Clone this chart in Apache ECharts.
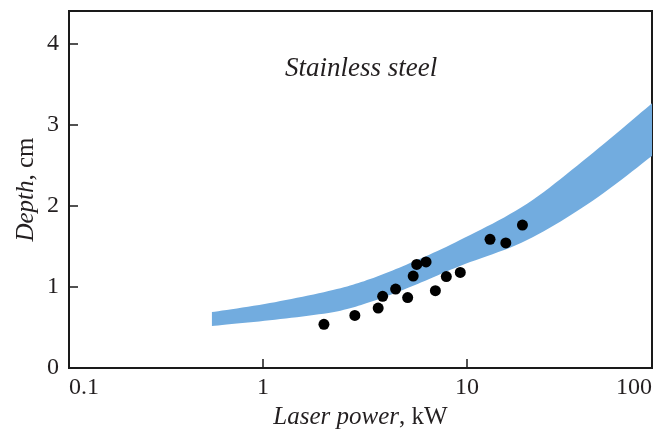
<!DOCTYPE html>
<html><head><meta charset="utf-8">
<script src="https://cdn.jsdelivr.net/npm/echarts@6/dist/echarts.min.js"></script>
<style>html,body{margin:0;padding:0;background:#fff}#c{width:669px;height:429px}</style>
</head><body><div id="c"></div>
<script>
const pointPower = [1.99, 2.82, 3.67, 3.86, 4.47, 5.12, 5.45, 5.67, 6.30, 7.0, 7.92, 9.27, 12.97, 15.5, 18.7];
const pointDepth = [0.54, 0.65, 0.74, 0.885, 0.975, 0.87, 1.135, 1.28, 1.31, 0.955, 1.13, 1.18, 1.59, 1.545, 1.765];
const bandPower = [0.562, 1.08, 2.2, 3.35, 5.26, 9.24, 19.7, 41.5, 80.7];
const bandUpper = [0.691, 0.802, 0.963, 1.099, 1.296, 1.58, 2.03, 2.66, 3.27];
const bandLower = [0.519, 0.590, 0.690, 0.815, 1.0, 1.26, 1.580, 2.07, 2.62];
const xTickLabels = ['0.1', '1', '10', '100'];
const yTickLabels = ['0', '1', '2', '3', '4'];
const chartTitle = 'Stainless steel';

const serif = "'Liberation Serif', serif";
const ink = '#231f20';

function catmull(pts, steps) {
  const out = [];
  for (let i = 0; i < pts.length - 1; i++) {
    const p0 = pts[Math.max(i - 1, 0)], p1 = pts[i], p2 = pts[i + 1], p3 = pts[Math.min(i + 2, pts.length - 1)];
    for (let s = 0; s < steps; s++) {
      const t = s / steps, t2 = t * t, t3 = t2 * t;
      const f = (a, b, c, d) => 0.5 * ((2 * b) + (-a + c) * t + (2 * a - 5 * b + 4 * c - d) * t2 + (-a + 3 * b - 3 * c + d) * t3);
      out.push([f(p0[0], p1[0], p2[0], p3[0]), f(p0[1], p1[1], p2[1], p3[1])]);
    }
  }
  out.push(pts[pts.length - 1]);
  return out;
}

const chart = echarts.init(document.getElementById('c'), null, {renderer: 'canvas'});
chart.setOption({
  animation: false,
  backgroundColor: '#fff',
  title: {
    text: chartTitle, left: 280, top: 50,
    textStyle: {fontFamily: serif, fontStyle: 'italic', fontWeight: 'normal', fontSize: 27, color: ink}
  },
  grid: {left: 69, right: 17, top: 11, bottom: 61, show: true, borderColor: '#1a1a1a', borderWidth: 2,
         containLabel: false, outerBoundsMode: 'none'},
  xAxis: {
    type: 'log', logBase: 10, min: 0.112, max: 80.7,
    name: '{i|Laser power}{r|, kW}', nameLocation: 'middle', nameGap: 30,
    nameTextStyle: {rich: {
      i: {fontFamily: serif, fontStyle: 'italic', fontSize: 25, color: ink},
      r: {fontFamily: serif, fontSize: 25, color: ink}
    }},
    axisLine: {show: true, lineStyle: {color: '#1a1a1a', width: 2}},
    axisTick: {show: true, inside: true, length: 9, lineStyle: {color: '#1a1a1a', width: 1.5}},
    minorTick: {show: false},
    splitLine: {show: false},
    axisLabel: {
      fontFamily: serif, fontSize: 24, color: ink, margin: 8,
      showMinLabel: true, showMaxLabel: true,
      alignMinLabel: 'left', alignMaxLabel: 'right',
      formatter: function (v) {
        if (v < 0.5) return xTickLabels[0];
        if (v > 50) return xTickLabels[3];
        if (Math.abs(v - 1) < 1e-6) return xTickLabels[1];
        if (Math.abs(v - 10) < 1e-6) return xTickLabels[2];
        return '';
      }
    }
  },
  yAxis: {
    type: 'value', min: 0, max: 4.41, interval: 1,
    name: '{i|Depth}{r|, cm}', nameLocation: 'middle', nameGap: 30, nameRotate: 90,
    nameMoveOverlap: false,
    nameTextStyle: {rich: {
      i: {fontFamily: serif, fontStyle: 'italic', fontSize: 25, color: ink},
      r: {fontFamily: serif, fontSize: 25, color: ink}
    }},
    axisLine: {show: true, lineStyle: {color: '#1a1a1a', width: 2}},
    axisTick: {show: true, inside: true, length: 9, lineStyle: {color: '#1a1a1a', width: 1.5}},
    splitLine: {show: false},
    axisLabel: {
      fontFamily: serif, fontSize: 24, color: ink, margin: 10,
      formatter: function (v) {
        const i = Math.round(v);
        return Math.abs(v - i) < 1e-6 && yTickLabels[i] !== undefined ? yTickLabels[i] : '';
      }
    }
  },
  series: [
    {
      type: 'custom', silent: true, clip: true,
      data: bandPower.map((x, i) => [x, bandLower[i], bandUpper[i]]),
      encode: {x: 0, y: [1, 2]},
      renderItem: function (params, api) {
        if (params.dataIndex !== 0) return null;
        const up = bandPower.map((x, i) => api.coord([x, bandUpper[i]]));
        const lo = bandPower.map((x, i) => api.coord([x, bandLower[i]]));
        const upS = catmull(up, 12);
        const loS = catmull(lo, 12).reverse();
        const cs = params.coordSys;
        return {
          type: 'polygon',
          shape: {points: upS.concat(loS)},
          style: {fill: '#72acdf'},
          clipPath: {type: 'rect', shape: {x: cs.x, y: cs.y, width: cs.width, height: cs.height}}
        };
      },
      z: 1
    },
    {
      type: 'scatter', symbol: 'circle', symbolSize: 11,
      itemStyle: {color: '#000', opacity: 1},
      data: pointPower.map((x, i) => [x, pointDepth[i]]),
      z: 3
    }
  ]
});
</script>
</body></html>
